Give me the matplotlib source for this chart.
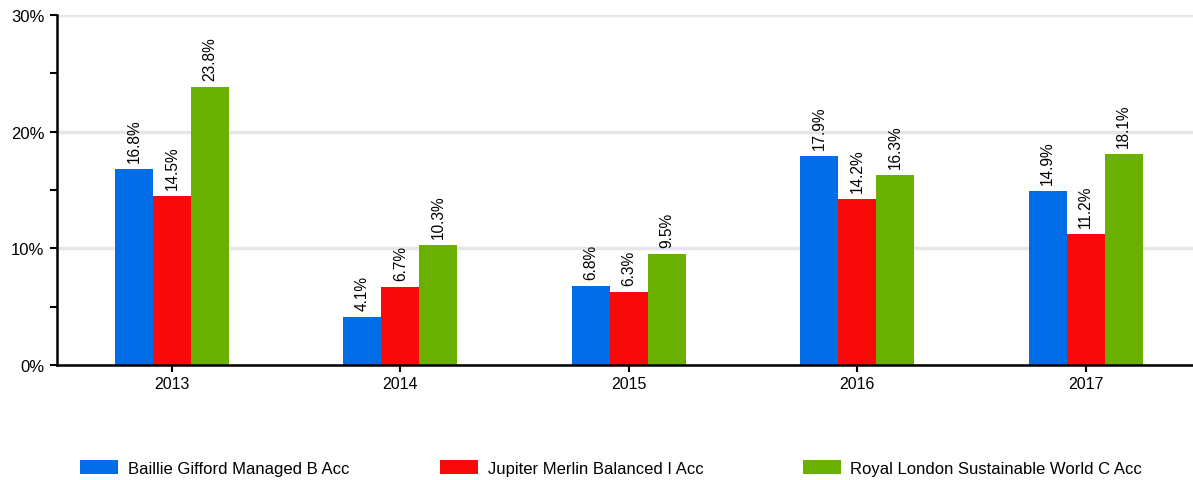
import matplotlib.pyplot as plt
import numpy as np
from matplotlib.patches import Patch
from matplotlib.ticker import MultipleLocator, FuncFormatter

plt.rcParams['font.family'] = ['Liberation Sans', 'DejaVu Sans']

# ---------------------------------------------------------------------------
# Data
# ---------------------------------------------------------------------------
years = ["2013", "2014", "2015", "2016", "2017"]
funds = ["Baillie Gifford Managed B Acc",
         "Jupiter Merlin Balanced I Acc",
         "Royal London Sustainable World C Acc"]
baillie = [16.8, 4.1, 6.8, 17.9, 14.9]
jupiter = [14.5, 6.7, 6.3, 14.2, 11.2]
royal = [23.8, 10.3, 9.5, 16.3, 18.1]
colors = ["#006ce6", "#f80a0a", "#69b000"]

# ---------------------------------------------------------------------------
# Plot
# ---------------------------------------------------------------------------
W, H = 1193, 481
fig = plt.figure(figsize=(W / 100, H / 100), dpi=100)
ax = fig.add_axes([57 / W, (H - 366) / H, (1193 - 57) / W, 350 / H])

x = np.arange(len(years))
width = 0.166
for i, (vals, col) in enumerate(zip([baillie, jupiter, royal], colors)):
    pos = x + (i - 1) * width
    ax.bar(pos, vals, width, color=col, zorder=3)
    for xp, v in zip(pos, vals):
        ax.annotate(f"{v:.1f}%", (xp, v), xytext=(0, 5), textcoords="offset points",
                    rotation=90, ha="center", va="bottom", fontsize=11.2, zorder=4)

ax.set_xlim(-0.503, 4.47)
ax.set_ylim(0, 30)
ax.set_xticks(x)
ax.set_xticklabels(years, fontsize=11.5)
ax.yaxis.set_major_locator(MultipleLocator(10))
ax.yaxis.set_minor_locator(MultipleLocator(5))
ax.yaxis.set_major_formatter(FuncFormatter(lambda v, _: f"{v:.0f}%"))
ax.tick_params(axis="y", which="major", labelsize=12, length=5, width=1.5, pad=4)
ax.tick_params(axis="y", which="minor", length=5, width=1.5)
ax.tick_params(axis="x", length=5, width=1.5, pad=3)
ax.yaxis.grid(True, color="#e6e6e6", linewidth=2.5, zorder=0)
ax.set_axisbelow(True)
for s in ["top", "right"]:
    ax.spines[s].set_visible(False)
for s in ["left", "bottom"]:
    ax.spines[s].set_linewidth(1.8)
    ax.spines[s].set_zorder(5)

# legend: three entries spread across the bottom
legend_x = [80, 440, 803]
for lx, name, col in zip(legend_x, funds, colors):
    fig.legend(handles=[Patch(facecolor=col, label=name)],
               loc="center left", bbox_to_anchor=(lx / W, (H - 469) / H),
               frameon=False, fontsize=12, borderpad=0, borderaxespad=0,
               handlelength=2.3, handleheight=0.85, handletextpad=0.55)

fig.savefig("out.png", dpi=100)
